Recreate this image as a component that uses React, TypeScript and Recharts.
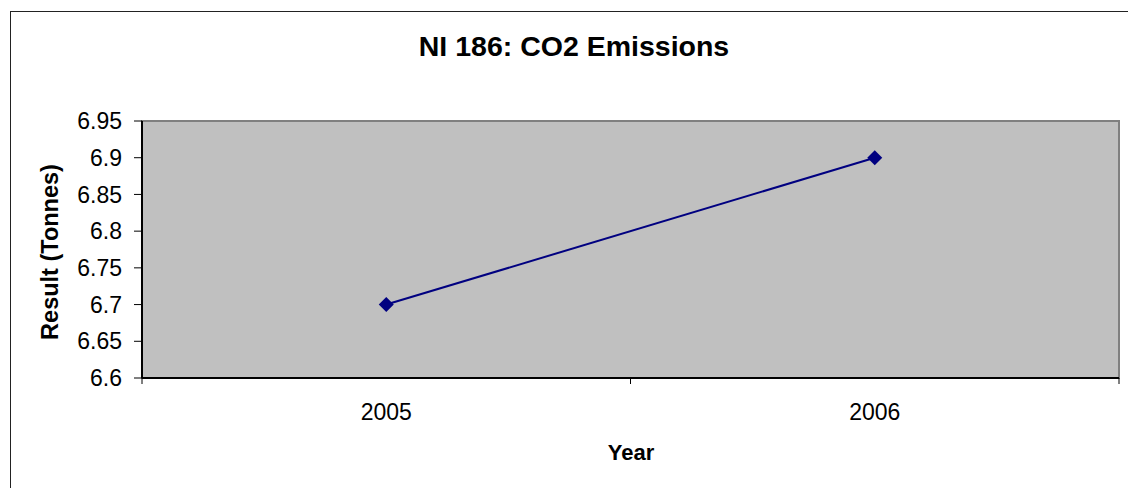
import { CartesianGrid, Label, Line, LineChart, ReferenceArea, XAxis, YAxis } from "recharts"

const years = ["2005", "2006"]
const results = [6.7, 6.9]
const yTicks = [6.6, 6.65, 6.7, 6.75, 6.8, 6.85, 6.9, 6.95]

const data = years.map((year, i) => ({ year, result: results[i] }))

const font = "'Liberation Sans', Arial, sans-serif"
const plotLeft = 142
const plotRight = 1119
const halfBand = (plotRight - plotLeft) / years.length / 2

function YearTick(props: any) {
  const { x, y, payload } = props
  const off = payload && payload.offset ? payload.offset : halfBand
  return (
    <g>
      <line x1={x - off} x2={x - off} y1={y} y2={y + 6} stroke="#000" />
      <line x1={x + off} x2={x + off} y1={y} y2={y + 6} stroke="#000" />
      <text x={x} y={y + 26} dy="0.71em" textAnchor="middle" fontSize={23} fontFamily={font} fill="#000">
        {payload.value}
      </text>
    </g>
  )
}

function Diamond(props: any) {
  const { cx, cy } = props
  if (cx == null || cy == null) return null
  const r = 7.5
  return <polygon points={`${cx},${cy - r} ${cx + r},${cy} ${cx},${cy + r} ${cx - r},${cy}`} fill="#000080" />
}

export default function App() {
  return (
    <div style={{ position: "fixed", left: 0, top: 0, width: 1128, height: 488, overflow: "hidden", background: "#fff" }}>
      <div
        style={{
          position: "absolute",
          left: 10,
          top: 11,
          width: 1140,
          height: 500,
          border: "1px solid #222",
        }}
      />
      <div
        style={{
          position: "absolute",
          left: 0,
          top: 28,
          width: 1148,
          textAlign: "center",
          fontFamily: font,
          fontWeight: "bold",
          fontSize: 28.5,
          lineHeight: "36px",
          color: "#000",
        }}
      >
        NI 186: CO2 Emissions
      </div>
      <div style={{ position: "absolute", left: 0, top: 0 }}>
        <LineChart width={1128} height={488} data={data} margin={{ top: 121, right: 9, bottom: 0, left: 22 }}>
          <CartesianGrid fill="#C0C0C0" horizontal={false} vertical={false} />
          <ReferenceArea y1={6.6} y2={6.95} fill="#C0C0C0" fillOpacity={1} stroke="#808080" strokeWidth={2} />
          <XAxis
            dataKey="year"
            scale="band"
            height={110}
            tickSize={0}
            tickMargin={0}
            tickLine={false}
            axisLine={{ stroke: "#000", strokeWidth: 2 }}
            tick={<YearTick />}
            interval={0}
          >
            <Label
              content={() => (
                <text x={631} y={452} dy="0.355em" textAnchor="middle" fontSize={22} fontWeight="bold" fontFamily={font} fill="#000">
                  Year
                </text>
              )}
            />
          </XAxis>
          <YAxis
            type="number"
            domain={[6.6, 6.95]}
            ticks={yTicks}
            interval={0}
            width={120}
            tickSize={8}
            tickMargin={12}
            tickLine={{ stroke: "#000" }}
            axisLine={{ stroke: "#000", strokeWidth: 2 }}
            tick={{ fontSize: 23, fontFamily: font, fill: "#000" }}
          >
            <Label
              content={() => (
                <text
                  x={50}
                  y={252}
                  dy="0.355em"
                  textAnchor="middle"
                  transform="rotate(-90 50 252)"
                  fontSize={23.5}
                  fontWeight="bold"
                  fontFamily={font}
                  fill="#000"
                >
                  Result (Tonnes)
                </text>
              )}
            />
          </YAxis>
          <Line
            type="linear"
            dataKey="result"
            stroke="#000080"
            strokeWidth={2}
            dot={<Diamond />}
            activeDot={false}
            isAnimationActive={false}
          />
        </LineChart>
      </div>
    </div>
  )
}
